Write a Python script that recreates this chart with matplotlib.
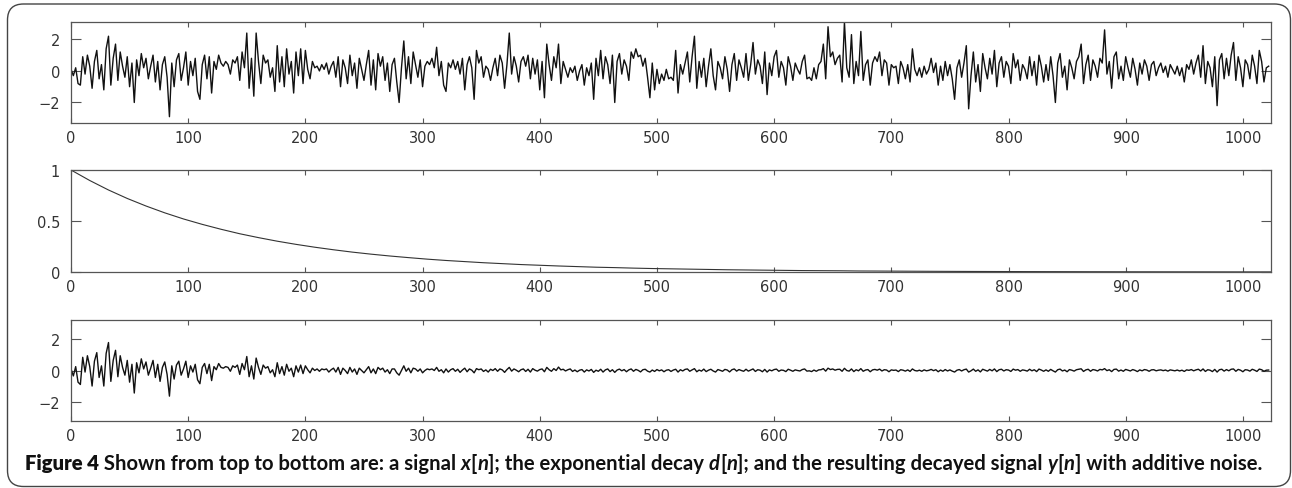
import numpy as np
import matplotlib
matplotlib.use("Agg")
import matplotlib.pyplot as plt
from matplotlib.patches import FancyBboxPatch
from matplotlib.transforms import IdentityTransform

# x[n], read every 2nd sample (n = 0, 2, ..., 1022)
x_sig = [
    0.1, -0.3, 0.2, -0.8, -0.9, 0.9, -0.2, 1.0, 0.3, -1.1, 0.6, 1.3, -0.5, 0.4, -1.2, 1.4,
    2.2, -0.9, 0.8, 1.7, -0.6, 1.2, 0.3, -0.4, 0.9, -1.0, 0.5, -2.0, 0.7, -0.3, 1.1, 0.2,
    0.8, -0.5, 0.3, 1.0, -0.7, 0.6, -1.2, 0.4, 0.9, -0.4, -2.9, 0.5, -1.0, 0.7, 1.1, -0.6,
    0.2, 1.2, -0.9, 0.6, -0.3, 0.8, -1.3, -1.8, 0.4, 1.0, -0.5, 0.9, -1.4, 0.6, 0.1, 1.0,
    0.5, 0.3, 0.6, 0.4, -0.2, 0.7, 0.5, 0.9, -0.6, 1.2, 0.2, 2.4, -1.1, 0.8, -1.6, 2.4,
    0.6, -0.8, 1.0, 0.5, 0.7, -0.4, 0.2, -1.3, 1.6, -0.7, 0.9, -1.0, 1.4, -0.2, 0.6, -1.4,
    1.2, -0.3, 1.4, -0.8, 1.3, 0.1, -0.5, 0.6, 0.2, 0.3, 0.0, 0.4, 0.1, 0.5, -0.2, 0.3,
    0.6, -0.4, 0.9, -1.0, 0.7, 0.2, -0.8, 1.0, -0.3, 0.5, -1.1, 0.8, 0.1, -0.6, 0.4, 1.3,
    -0.9, 0.7, -1.2, 1.1, 0.3, 0.9, -0.6, 0.5, -1.3, 0.4, 0.8, -0.7, -2.0, 0.2, 1.9, -0.5,
    0.9, -0.8, 1.2, 0.4, -0.4, 0.7, -1.0, 0.3, 0.6, 0.4, 0.8, 0.2, 1.5, -0.3, 0.6, -0.9,
    -1.3, 0.5, 0.2, 0.7, 0.1, 0.6, -0.2, 0.8, -1.2, 0.4, 0.9, 0.2, -1.8, 1.3, 0.5, 0.9,
    -0.4, 0.3, 0.1, -0.6, 0.2, 0.8, -0.3, 1.0, 0.5, -1.1, 0.4, 2.4, -0.2, 0.9, 0.3, -0.7,
    0.6, 0.9, 0.3, 1.0, -0.5, 0.8, -0.2, 0.7, -1.2, 0.6, -1.7, 1.7, 0.4, -0.6, 0.9, 0.2,
    1.7, -0.8, 0.6, 0.1, -0.4, 0.2, -0.1, 0.3, -0.6, 0.0, 0.4, -0.9, 0.2, -0.3, 0.5, -1.8,
    0.8, -0.3, 1.3, -0.5, 0.9, 0.4, -0.8, 1.0, -2.0, 0.6, 1.1, -0.2, 0.7, 0.3, -0.6, 1.2,
    0.8, 1.4, 0.9, 1.0, 0.3, 0.8, -0.4, -1.7, 0.5, -1.2, 0.1, -0.8, -0.2, -0.6, 0.1, -0.5,
    -0.4, -0.6, 1.3, -1.4, 0.4, -0.2, 0.5, 1.2, -0.7, 0.9, 2.2, -1.1, 0.6, -0.4, 0.8, -1.0,
    0.3, 1.4, -0.3, -1.2, 0.6, 0.2, -0.5, 0.9, 0.1, -1.3, 0.4, 1.1, -0.6, 0.7, 0.2, -0.4,
    1.1, -0.6, 0.4, 1.8, -0.2, 0.7, 0.3, -0.8, 1.2, -1.5, 0.5, -0.3, 0.9, 1.3, -0.4, 0.6,
    0.2, -0.9, 0.9, 0.3, -0.6, 0.5, 0.1, -0.2, 0.6, 1.0, -0.5, -0.4, -0.6, 0.2, -0.5, 0.4,
    0.6, 1.7, -0.5, 2.8, 0.9, 1.2, 0.4, 0.8, 1.0, -0.7, 3.1, 0.2, -0.4, 2.3, -0.8, 0.6,
    -0.3, 2.5, -0.6, 0.4, 0.7, -0.9, 0.5, 0.9, 0.6, 1.2, -0.3, 0.7, 0.5, -0.9, 0.4, 0.2,
    0.3, -0.8, 0.6, 0.2, -0.5, 0.4, -0.7, 1.4, 0.1, -0.3, 0.2, -0.4, 0.3, -0.2, 0.1, 0.8,
    -0.1, 0.5, -0.9, 0.3, -0.6, 0.6, -0.3, 0.4, -0.5, -1.8, 0.2, 0.7, -0.4, 0.5, 1.6, -2.4,
    -0.3, 1.2, -0.7, 0.4, -1.3, 1.1, 0.2, -0.5, 0.8, -0.2, 1.3, -1.0, 0.5, 0.9, -0.4, 0.6,
    0.3, -0.8, 1.1, 0.2, 0.7, -0.6, 0.4, 0.1, -0.5, 0.9, -0.3, 0.6, -0.9, 1.0, 0.3, -0.7,
    0.4, -0.6, 0.9, -0.3, -2.0, 0.5, 1.1, -0.4, 0.3, -1.2, 0.7, 0.2, -0.5, 0.6, 0.9, 1.7,
    -0.8, 0.4, 1.0, -0.6, 0.7, 0.3, -0.4, 0.8, 0.5, 2.6, -0.2, 0.6, -1.1, 0.9, 1.2, -0.5,
    0.3, -0.6, 0.9, 0.2, -0.4, 0.8, 0.1, -0.9, 0.5, -0.2, 0.7, 0.3, -0.6, 0.4, 0.6, -0.3,
    0.2, 0.5, -0.1, 0.3, -0.4, 0.4, 0.1, -0.2, 0.3, -0.3, 0.2, -0.7, 0.4, 0.1, 0.7, -0.2,
    0.5, 1.0, -0.4, 1.6, -0.8, 0.6, 0.2, -1.0, 0.9, -2.2, 0.7, 1.1, -0.5, 0.8, -0.3, 1.0,
    1.8, -0.6, 0.9, 0.2, -1.0, 0.7, 0.4, -0.5, 1.0, 0.3, -0.8, 1.3, 0.6, -0.7, 0.2, 0.3,
]

# d[n], read every 16th sample (n = 0, 16, ..., 1024)
d_sig = [
    1.000, 0.897, 0.804, 0.721, 0.647, 0.580, 0.520, 0.467, 0.419, 0.375, 0.337, 0.302, 0.271,
    0.243, 0.218, 0.195, 0.175, 0.157, 0.141, 0.126, 0.113, 0.102, 0.091, 0.082, 0.073, 0.066,
    0.059, 0.053, 0.047, 0.043, 0.038, 0.034, 0.031, 0.028, 0.025, 0.022, 0.020, 0.018, 0.016,
    0.014, 0.013, 0.012, 0.010, 0.0093, 0.0084, 0.0075, 0.0067, 0.0060, 0.0054, 0.0049, 0.0044,
    0.0039, 0.0035, 0.0032, 0.0028, 0.0025, 0.0023, 0.0020, 0.0018, 0.0016, 0.0015, 0.0013,
    0.0012, 0.0011, 0.0010,
]

# y[n], read every 2nd sample (n = 0, 2, ..., 1022)
y_sig = [
    0.1, -0.35, 0.25, -0.75, -0.9, 0.85, -0.1, 0.95, 0.25, -1.0, 0.6, 1.15, -0.45, 0.3, -1.0, 1.1,
    1.8, -0.7, 0.65, 1.3, -0.4, 0.95, 0.2, -0.3, 0.65, -0.75, 0.4, -1.45, 0.5, -0.15, 0.75, 0.1,
    0.55, -0.3, 0.15, 0.65, -0.45, 0.4, -0.7, 0.2, 0.55, -0.25, -1.65, 0.3, -0.55, 0.35, 0.6, -0.3,
    0.1, 0.6, -0.45, 0.3, -0.1, 0.4, -0.6, -0.85, 0.2, 0.45, -0.2, 0.4, -0.65, 0.25, 0.05, 0.45,
    0.2, 0.15, 0.25, 0.2, -0.05, 0.3, 0.2, 0.35, -0.25, 0.45, 0.05, 0.9, -0.4, 0.3, -0.55, 0.8,
    0.2, -0.25, 0.35, 0.15, 0.25, -0.15, 0.05, -0.4, 0.5, -0.2, 0.25, -0.3, 0.4, -0.05, 0.15, -0.4,
    0.3, -0.1, 0.35, -0.2, 0.3, 0.05, -0.15, 0.15, 0.0, 0.1, -0.05, 0.1, 0.05, 0.1, -0.1, 0.05,
    0.15, -0.1, 0.2, -0.25, 0.15, 0.0, -0.2, 0.2, -0.1, 0.1, -0.25, 0.15, 0.0, -0.15, 0.05, 0.25,
    -0.15, 0.1, -0.2, 0.2, 0.05, 0.15, -0.1, 0.05, -0.2, 0.1, 0.1, -0.15, -0.3, 0.0, 0.3, -0.05,
    0.15, -0.15, 0.15, 0.1, -0.05, 0.1, -0.15, 0.0, 0.1, 0.05, 0.1, 0.0, 0.2, -0.05, 0.05, -0.15,
    0.1, -0.1, 0.05, 0.12, -0.05, 0.08, -0.12, 0.03, 0.15, -0.08, 0.1, 0.02, -0.15, 0.12, 0.05, 0.1,
    -0.06, 0.04, -0.1, 0.08, 0.0, 0.12, -0.05, 0.1, 0.04, -0.12, 0.06, 0.2, -0.04, 0.1, 0.02, -0.08,
    0.05, 0.1, -0.06, 0.08, -0.1, 0.12, 0.02, -0.04, 0.06, 0.1, -0.08, 0.2, 0.05, -0.05, 0.12, 0.0,
    0.22, 0.04, 0.08, -0.03, 0.05, 0.1, -0.06, 0.03, -0.08, 0.02, 0.06, -0.1, 0.04, -0.03, 0.07, -0.12,
    0.02, -0.05, 0.08, -0.1, 0.04, 0.1, -0.07, 0.05, -0.12, 0.03, 0.09, -0.02, 0.06, -0.08, 0.04, 0.1,
    -0.05, 0.07, 0.01, -0.09, 0.05, 0.08, -0.04, -0.1, 0.03, -0.06, 0.06, -0.02, 0.04, -0.08, 0.02, 0.05,
    -0.06, 0.03, 0.08, -0.1, 0.05, -0.03, 0.07, 0.1, -0.05, 0.04, 0.12, -0.08, 0.03, -0.04, 0.09, -0.07,
    0.02, 0.08, -0.03, -0.1, 0.06, 0.01, -0.05, 0.07, 0.03, -0.09, 0.05, 0.1, -0.04, 0.06, 0.0, -0.05,
    0.08, -0.04, 0.03, 0.1, -0.06, 0.05, 0.02, -0.08, 0.07, -0.1, 0.04, -0.02, 0.06, 0.09, -0.05, 0.03,
    0.01, -0.07, 0.08, 0.02, -0.05, 0.04, 0.0, -0.03, 0.06, 0.1, -0.04, -0.02, -0.07, 0.03, -0.05, 0.04,
    0.05, 0.12, -0.04, 0.15, 0.06, 0.1, 0.02, 0.07, 0.08, -0.05, 0.14, 0.0, -0.04, 0.1, -0.07, 0.05,
    -0.02, 0.12, -0.05, 0.03, 0.06, -0.08, 0.04, 0.07, 0.02, 0.09, -0.03, 0.05, 0.03, -0.08, 0.04, 0.01,
    0.03, -0.07, 0.05, 0.02, -0.04, 0.04, -0.06, 0.1, 0.0, -0.03, 0.02, -0.05, 0.04, -0.02, 0.01, 0.07,
    -0.01, 0.05, -0.08, 0.03, -0.05, 0.06, -0.03, 0.04, -0.04, -0.1, 0.02, 0.06, -0.03, 0.05, 0.09, -0.1,
    -0.02, 0.09, -0.05, 0.04, -0.09, 0.08, 0.02, -0.04, 0.07, -0.02, 0.1, -0.07, 0.05, 0.08, -0.03, 0.05,
    0.03, -0.06, 0.09, 0.02, 0.06, -0.05, 0.04, 0.01, -0.04, 0.08, -0.02, 0.05, -0.07, 0.09, 0.03, -0.05,
    0.04, -0.05, 0.07, -0.02, -0.1, 0.05, 0.09, -0.03, 0.03, -0.08, 0.06, 0.02, -0.04, 0.05, 0.08, 0.11,
    -0.06, 0.04, 0.08, -0.05, 0.06, 0.03, -0.03, 0.07, 0.04, 0.12, -0.01, 0.05, -0.07, 0.07, 0.09, -0.04,
    0.03, -0.05, 0.07, 0.02, -0.03, 0.06, 0.01, -0.07, 0.04, -0.02, 0.06, 0.03, -0.05, 0.04, 0.05, -0.02,
    0.02, 0.04, -0.01, 0.03, -0.04, 0.04, 0.01, -0.02, 0.03, -0.03, 0.02, -0.06, 0.04, 0.01, 0.06, -0.02,
    0.04, 0.08, -0.03, 0.1, -0.06, 0.05, 0.02, -0.07, 0.07, -0.1, 0.05, 0.08, -0.04, 0.06, -0.02, 0.08,
    0.1, -0.05, 0.07, 0.02, -0.08, 0.05, 0.03, -0.04, 0.08, 0.02, -0.06, 0.09, 0.05, -0.05, 0.02, 0.03,
]

x_ticks = list(range(0, 1001, 100))
sig_yticks = [-2, 0, 2]
d_yticks = [0, 0.5, 1]
d_yticklabels = ["0", "0.5", "1"]

caption = [
    ("Figure 4", "heavy", "normal"),
    (" Shown from top to bottom are: a signal ", "bold", "normal"),
    ("x", "bold", "italic"), ("[", "bold", "normal"), ("n", "bold", "italic"),
    ("]; the exponential decay ", "bold", "normal"),
    ("d", "bold", "italic"), ("[", "bold", "normal"), ("n", "bold", "italic"),
    ("]; and the resulting decayed signal ", "bold", "normal"),
    ("y", "bold", "italic"), ("[", "bold", "normal"), ("n", "bold", "italic"),
    ("] with additive noise.", "bold", "normal"),
]

W, H = 1292, 489
fig = plt.figure(figsize=(W / 100, H / 100), dpi=100)


def axes_px(left, top, right, bottom):
    return fig.add_axes([left / W, 1 - bottom / H, (right - left) / W, (bottom - top) / H])


def style(ax, ylim, yticks):
    ax.set_xlim(0, 1024)
    ax.set_ylim(*ylim)
    ax.set_xticks(x_ticks)
    ax.set_yticks(yticks)
    ax.tick_params(axis="x", direction="in", top=True, length=3.5, width=0.8,
                   pad=5, labelsize=10.5, color="#555555", labelcolor="#333333")
    ax.tick_params(axis="y", direction="in", right=True, length=7.5, width=0.8,
                   pad=8, labelsize=10.5, color="#555555", labelcolor="#333333")
    for sp in ax.spines.values():
        sp.set_color("#555555")
        sp.set_linewidth(0.9)


n_sig = np.arange(len(x_sig)) * 2
n_d = np.arange(len(d_sig)) * 16

ax1 = axes_px(71, 23, 1271, 124)
ax1.plot(n_sig, x_sig, color="#111111", lw=1.0)
style(ax1, (-3.3, 3.1), sig_yticks)

ax2 = axes_px(71, 171, 1271, 273)
ax2.plot(n_d, d_sig, color="#333333", lw=0.8)
style(ax2, (0, 1), d_yticks)
ax2.set_yticklabels(d_yticklabels)

ax3 = axes_px(71, 321, 1271, 422)
ax3.plot(n_sig, y_sig, color="#111111", lw=1.0)
style(ax3, (-3.25, 3.25), sig_yticks)

# rounded frame around the whole figure
frame = FancyBboxPatch((7.5, 1.5), 1283, 482.5, boxstyle="round,pad=0,rounding_size=16",
                       transform=IdentityTransform(), fill=False, ec="#444444", lw=1.0)
fig.add_artist(frame)

# caption built from pieces laid out left to right
renderer = fig.canvas.get_renderer()


def piece_width(s, size, weight, style_):
    a = fig.text(0, 0, "|" + s + "|", fontsize=size, family="Lato", weight=weight,
                 style=style_, transform=IdentityTransform())
    b = fig.text(0, 0, "||", fontsize=size, family="Lato", weight=weight,
                 style=style_, transform=IdentityTransform())
    w = a.get_window_extent(renderer).width - b.get_window_extent(renderer).width
    a.remove()
    b.remove()
    return w


size = 15
total = sum(piece_width(s, size, w, st) for s, w, st in caption)
size = size * (1267 - 25) / total
xpos = 25
for s, w, st in caption:
    fig.text(xpos, 489 - 470, s, fontsize=size, family="Lato", weight=w, style=st,
             color="#111111", va="baseline", ha="left", transform=IdentityTransform())
    xpos += piece_width(s, size, w, st)

fig.savefig("out.png", dpi=100)
